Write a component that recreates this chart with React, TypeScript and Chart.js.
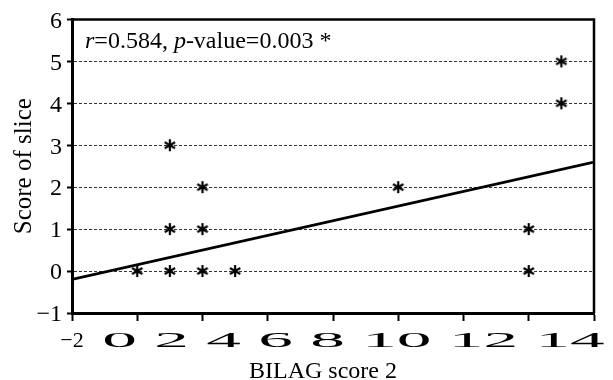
import React, { useEffect, useRef } from 'react';
import { Chart, registerables } from 'chart.js';

Chart.register(...registerables);

// Data
const bilagScores = [0, 1, 1, 1, 2, 2, 2, 3, 8, 12, 12, 13, 13];
const sliceScores = [0, 0, 1, 3, 0, 1, 2, 0, 2, 0, 1, 4, 5];
const fitX = [-2, 14];
const fitY = [-0.2, 2.6];
const xTicks = [-2, 0, 2, 4, 6, 8, 10, 12, 14];
const yTicks = [-1, 0, 1, 2, 3, 4, 5, 6];
const corrR = '0.584';
const pValue = '0.003';
const xTitle = 'BILAG score 2';
const yTitle = 'Score of slice';

const SERIF = "'Liberation Serif', 'Times New Roman', serif";

const fmt = (v: number) => (v < 0 ? '\u2212' + Math.abs(v) : String(v));

function makeAsterisk(): HTMLCanvasElement {
  const c = document.createElement('canvas');
  const s = 14;
  c.width = s;
  c.height = s;
  const ctx = c.getContext('2d')!;
  ctx.strokeStyle = '#000';
  ctx.lineWidth = 2.2;
  const r = 6;
  const cx = s / 2;
  const cy = s / 2;
  for (const a of [90, 30, 150]) {
    const rad = (a * Math.PI) / 180;
    ctx.beginPath();
    ctx.moveTo(cx - r * Math.cos(rad), cy - r * Math.sin(rad));
    ctx.lineTo(cx + r * Math.cos(rad), cy + r * Math.sin(rad));
    ctx.stroke();
  }
  return c;
}

const textPlugin = {
  id: 'customText',
  afterDraw(chart: any) {
    const { ctx, chartArea } = chart;
    const xs = chart.scales.x;
    ctx.save();
    // top and right frame lines
    ctx.strokeStyle = '#000';
    ctx.lineWidth = 2.5;
    ctx.beginPath();
    ctx.moveTo(chartArea.left, chartArea.top);
    ctx.lineTo(chartArea.right, chartArea.top);
    ctx.lineTo(chartArea.right, chartArea.bottom);
    ctx.stroke();

    ctx.fillStyle = '#000';
    // x tick labels: first normal, rest in a wide stretched face
    const base = xs.top + 34;
    ctx.textBaseline = 'alphabetic';
    ctx.font = `22px ${SERIF}`;
    ctx.textAlign = 'center';
    ctx.fillText(fmt(xTicks[0]), xs.getPixelForValue(xTicks[0]), base);
    const rest = xTicks.slice(1).map(fmt).join(' ');
    ctx.font = `21px ${SERIF}`;
    ctx.textAlign = 'left';
    ctx.save();
    ctx.translate(xs.getPixelForValue(xTicks[1]) - 35, base);
    ctx.scale(3.3, 1);
    ctx.fillText(rest, 0, 0);
    ctx.restore();

    // x title
    ctx.font = `24px ${SERIF}`;
    ctx.textAlign = 'center';
    ctx.fillText(xTitle, (chartArea.left + chartArea.right) / 2 - 10, 378);

    // annotation
    ctx.textAlign = 'left';
    let x = chartArea.left + 13;
    const y = chartArea.top + 29;
    const parts: [string, boolean][] = [
      ['r', true],
      ['=' + corrR + ', ', false],
      ['p', true],
      ['-value=' + pValue + ' *', false],
    ];
    for (const [t, it] of parts) {
      ctx.font = `${it ? 'italic ' : ''}24px ${SERIF}`;
      ctx.fillText(t, x, y);
      x += ctx.measureText(t).width;
    }
    ctx.restore();
  },
};

export default function App() {
  const ref = useRef<HTMLCanvasElement | null>(null);
  useEffect(() => {
    document.body.style.margin = '0';
    if (!ref.current) return;
    const star = makeAsterisk();
    const chart = new Chart(ref.current, {
      type: 'scatter',
      plugins: [textPlugin],
      data: {
        datasets: [
          {
            type: 'line',
            data: fitX.map((v, i) => ({ x: v, y: fitY[i] })),
            borderColor: '#000',
            borderWidth: 2.8,
            pointRadius: 0,
            fill: false,
          } as any,
          {
            data: bilagScores.map((v, i) => ({ x: v, y: sliceScores[i] })),
            pointStyle: star as any,
            pointRadius: 7,
            backgroundColor: '#000',
            borderColor: '#000',
          },
        ],
      },
      options: {
        animation: false,
        responsive: true,
        maintainAspectRatio: false,
        layout: { padding: { top: 19, right: 19, left: 0, bottom: 0 } },
        plugins: { legend: { display: false }, tooltip: { enabled: false } },
        scales: {
          x: {
            type: 'linear',
            min: xTicks[0],
            max: xTicks[xTicks.length - 1],
            afterBuildTicks: (s: any) => {
              s.ticks = xTicks.map((v) => ({ value: v }));
            },
            afterFit: (s: any) => {
              s.height = 67;
            },
            ticks: { display: true, color: 'rgba(0,0,0,0)', font: { size: 20, family: SERIF } },
            grid: {
              drawOnChartArea: false,
              drawTicks: true,
              tickLength: 8,
              tickWidth: 2,
              tickColor: '#000',
            },
            border: { display: true, color: '#000', width: 3 },
            title: { display: false },
          },
          y: {
            type: 'linear',
            min: yTicks[0],
            max: yTicks[yTicks.length - 1],
            afterBuildTicks: (s: any) => {
              s.ticks = yTicks.map((v) => ({ value: v }));
            },
            afterFit: (s: any) => {
              s.width = 72;
            },
            ticks: {
              color: '#000',
              font: { size: 24, family: SERIF },
              padding: 5,
              labelOffset: 2,
              callback: (v: any) => fmt(Number(v)),
            },
            grid: {
              color: (c: any) =>
                c.tick && (c.tick.value === yTicks[0] || c.tick.value === yTicks[yTicks.length - 1])
                  ? 'rgba(0,0,0,0)'
                  : '#333',
              lineWidth: 1,
              tickLength: 5,
              tickWidth: 2,
              tickColor: '#000',
            },
            border: { display: true, color: '#000', width: 3, dash: [3, 2] },
            title: {
              display: true,
              text: yTitle,
              color: '#000',
              font: { size: 25, family: SERIF },
              padding: { top: 9, bottom: 0 },
            },
          },
        },
      },
    });
    return () => chart.destroy();
  }, []);
  return (
    <div style={{ width: 613, height: 380, position: 'relative' }}>
      <canvas ref={ref} />
    </div>
  );
}
